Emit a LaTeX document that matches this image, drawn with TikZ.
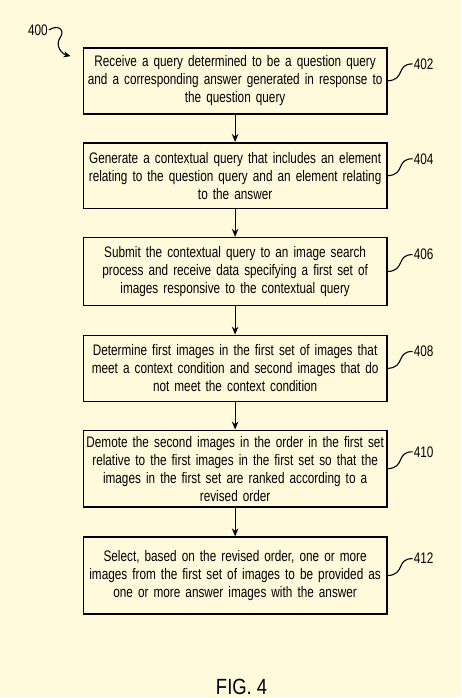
\documentclass[tikz,border=0pt]{standalone}
\usepackage{fontspec}
\setmainfont{Liberation Sans}[FakeStretch=0.77]
\newfontfamily\figfont{Liberation Sans}[FakeStretch=0.84]
\usepackage{tikz}
\usetikzlibrary{arrows.meta,positioning}
\definecolor{patentbg}{RGB}{255,250,220}

\newcommand{\stepnum}[2] % {box}{label}
{
	\node (n#2) [anchor=west, inner sep=1pt] at ([xshift=25pt,yshift=17pt]#1.east) {#2};
	\draw [line width=1.1pt] (#1.east) .. controls +(18,-1) and +(-17,0) .. (n#2.west);
}

\begin{document}
\begin{tikzpicture}[x=1pt, y=-1pt, font=\fontsize{15.3}{18}\selectfont,
	stepbox/.style={draw, line width=1.6pt, fill=patentbg, minimum width=304pt, text width=304pt, align=center, inner sep=0pt},
	flow/.style={line width=1.2pt, -{Stealth[length=8pt,width=6.5pt]}}]
	
	\fill [patentbg] (0,0) rectangle (462,698);
	
	\node (b1) [stepbox, minimum height=66pt] at (235.5,81) {Receive a query determined to be a question query\\ and a corresponding answer generated in response to\\ the question query};
	\node (b2) [stepbox, minimum height=66pt] at (235.5,176) {Generate a contextual query that includes an element\\ relating to the question query and an element relating\\ to the answer};
	\node (b3) [stepbox, minimum height=68pt] at (235.5,272) {Submit the contextual query to an image search\\ process and receive data specifying a first set of\\ images responsive to the contextual query};
	\node (b4) [stepbox, minimum height=66pt] at (235.5,369) {Determine first images in the first set of images that\\ meet a context condition and second images that do\\ not meet the context condition};
	\node (b5) [stepbox, minimum height=77pt] at (235.5,469.5) {Demote the second images in the order in the first set\\ relative to the first images in the first set so that the\\ images in the first set are ranked according to a\\ revised order};
	\node (b6) [stepbox, minimum height=77pt] at (235.5,576.5) {Select, based on the revised order, one or more\\ images from the first set of images to be provided as\\ one or more answer images with the answer};
	
	\draw [flow] (b1) -- (b2);
	\draw [flow] (b2) -- (b3);
	\draw [flow] (b3) -- (b4);
	\draw [flow] (b4) -- (b5);
	\draw [flow] (b5) -- (b6);
	
	\stepnum{b1}{402}
	\stepnum{b2}{404}
	\stepnum{b3}{406}
	\stepnum{b4}{408}
	\stepnum{b5}{410}
	\stepnum{b6}{412}
	
	% figure reference
	\node (n400) [inner sep=1pt] at (38,30) {400};
	\coordinate (tip400) at ([xshift=-12pt,yshift=-9pt]b1.north west);
	\draw [line width=1.1pt, -{Stealth[length=7pt,width=6pt]}] (n400.east) .. controls (58,24) and (66,30) .. (60,38) .. controls (55,46) and (62,54) .. (tip400);
	
	\node (fig) at (242,688) {\figfont\fontsize{22}{24}\selectfont FIG. 4};
\end{tikzpicture}
\end{document}
